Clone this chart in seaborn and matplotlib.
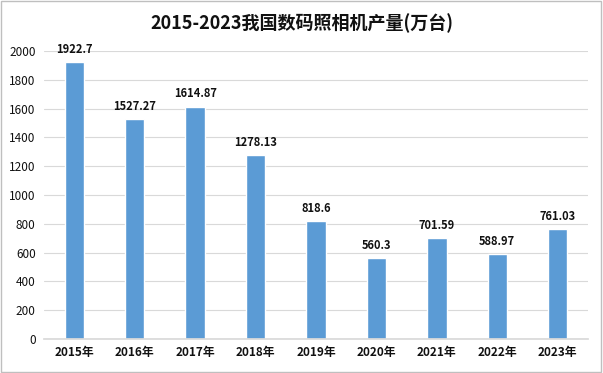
import matplotlib
matplotlib.use("Agg")
import matplotlib.pyplot as plt
import seaborn as sns
import pandas as pd

years = ["2015年", "2016年", "2017年", "2018年", "2019年", "2020年", "2021年", "2022年", "2023年"]
output = [1922.7, 1527.27, 1614.87, 1278.13, 818.6, 560.3, 701.59, 588.97, 761.03]
labels = ["1922.7", "1527.27", "1614.87", "1278.13", "818.6", "560.3", "701.59", "588.97", "761.03"]

sns.set_theme(style="white")
plt.rcParams["font.family"] = ["Noto Sans CJK SC", "DejaVu Sans"]

df = pd.DataFrame({"year": years, "output": output})

fig = plt.figure(figsize=(6.03, 3.73), dpi=100)
ax = fig.add_axes([0.073, 0.091, 0.902, 0.772])
sns.barplot(data=df, x="year", y="output", color="#5B9BD5", saturation=1,
            width=0.32, ax=ax)

ax.set_ylim(0, 2000)
ax.set_xlim(-0.5, 8.5)
ax.set_yticks(range(0, 2001, 200))
ax.yaxis.grid(True, color="#D9D9D9", linewidth=0.8)
ax.set_axisbelow(True)
for s in ["top", "right", "left"]:
    ax.spines[s].set_visible(False)
ax.spines["bottom"].set_color("#D9D9D9")
ax.set_xlabel("")
ax.set_ylabel("")
ax.tick_params(axis="y", labelsize=8.5, colors="#111111", length=0, pad=6)
ax.tick_params(axis="x", labelsize=8.5, colors="#111111", length=0, pad=5)
for t in ax.get_xticklabels():
    t.set_fontweight("bold")
for t in ax.get_yticklabels():
    t.set_fontweight("medium")

for i, (v, lab) in enumerate(zip(output, labels)):
    ax.text(i, v + 45, lab, ha="center", va="bottom", fontsize=8,
            fontweight="bold", color="#111111")

fig.text(0.5, 0.937, "2015-2023我国数码照相机产量(万台)", ha="center", va="center",
         fontsize=13, fontweight="bold", color="#111111")

fig.patches.append(plt.Rectangle((0.002, 0.003), 0.995, 0.994, transform=fig.transFigure,
                                 fill=False, edgecolor="#BFBFBF", linewidth=1.0))

fig.savefig("out.png", dpi=100)
